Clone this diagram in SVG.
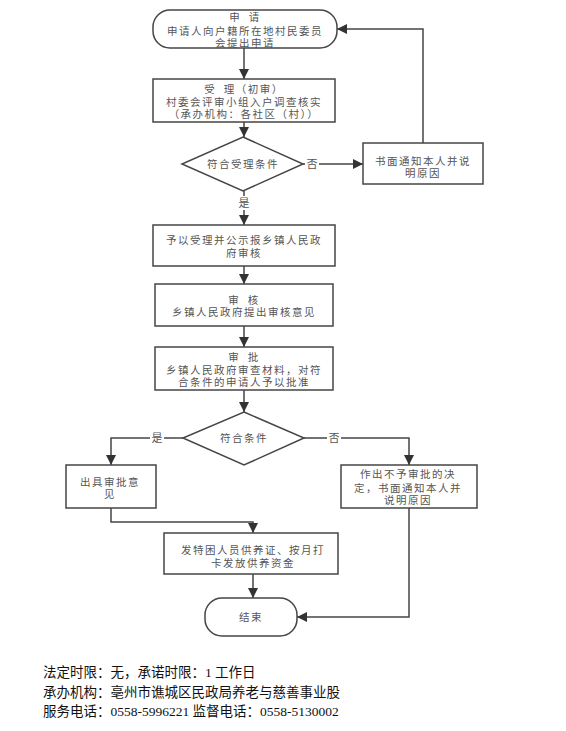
<svg xmlns="http://www.w3.org/2000/svg" width="566" height="731" viewBox="0 0 566 731">
<style>
.n{fill:#fff;stroke:#454545;stroke-width:1.5}
.t{font-family:"Noto Sans CJK SC","Noto Sans",sans-serif;font-size:10.5px;letter-spacing:1.5px;fill:#555;text-anchor:middle}
.c{fill:none;stroke:#454545;stroke-width:1.5}
.lb{font-family:"Noto Sans CJK SC","Noto Sans",sans-serif;font-size:11px;fill:#555;text-anchor:middle}
.f{font-family:"Liberation Serif","Noto Sans CJK SC",serif;font-size:13.5px;fill:#111}
</style>
<defs>
<marker id="a" viewBox="0 0 10 10" refX="10" refY="5" markerWidth="10" markerHeight="10" markerUnits="userSpaceOnUse" orient="auto">
<path d="M0,0 L10,5 L0,10 Z" fill="#333"/>
</marker>
</defs>
<rect width="566" height="731" fill="#fff"/>
<g id="connectors">
<path class="c" d="M244,48 V79" marker-end="url(#a)"/>
<path class="c" d="M244,122 V137" marker-end="url(#a)"/>
<path class="c" d="M303,164 H363" marker-end="url(#a)"/>
<path class="c" d="M423,143 V29 H337" marker-end="url(#a)"/>
<path class="c" d="M244,191 V225" marker-end="url(#a)"/>
<path class="c" d="M244,266 V284" marker-end="url(#a)"/>
<path class="c" d="M244,326 V347" marker-end="url(#a)"/>
<path class="c" d="M244,390 V412" marker-end="url(#a)"/>
<path class="c" d="M183,438 H111 V465" marker-end="url(#a)"/>
<path class="c" d="M304,438 H409 V465" marker-end="url(#a)"/>
<path class="c" d="M111,508 V522 H253 V533" marker-end="url(#a)"/>
<path class="c" d="M253,574 V598" marker-end="url(#a)"/>
<path class="c" d="M409,508 V617 H297" marker-end="url(#a)"/>
<rect x="305" y="157" width="14" height="14" fill="#fff"/>
<text class="lb" x="312" y="168">否</text>
<rect x="237" y="196" width="14" height="14" fill="#fff"/>
<text class="lb" x="244" y="207">是</text>
<rect x="150" y="431" width="14" height="14" fill="#fff"/>
<text class="lb" x="157" y="442">是</text>
<rect x="327" y="431" width="14" height="14" fill="#fff"/>
<text class="lb" x="334" y="442">否</text>
</g>
<g id="start">
<rect class="n" x="153" y="10" width="184" height="38" rx="17" ry="17"/>
<text class="t" x="245" y="21" xml:space="preserve">申  请</text>
<text class="t" x="245" y="35">申请人向户籍所在地村民委员</text>
<text class="t" x="245" y="47">会提出申请</text>
</g>
<g id="accept">
<rect class="n" x="153" y="79" width="182" height="43"/>
<text class="t" x="244" y="93" xml:space="preserve">受  理（初审）</text>
<text class="t" x="244" y="106">村委会评审小组入户调查核实</text>
<text class="t" x="244" y="118">（承办机构：各社区（村））</text>
</g>
<g id="cond1">
<polygon class="n" points="243,137 303,164 243,191 182,164"/>
<text class="t" x="243" y="168">符合受理条件</text>
</g>
<g id="notify1">
<rect class="n" x="363" y="143" width="120" height="41"/>
<text class="t" x="423" y="165">书面通知本人并说</text>
<text class="t" x="423" y="177">明原因</text>
</g>
<g id="publish">
<rect class="n" x="153" y="225" width="182" height="41"/>
<text class="t" x="244" y="244">予以受理并公示报乡镇人民政</text>
<text class="t" x="244" y="257">府审核</text>
</g>
<g id="review">
<rect class="n" x="155" y="284" width="178" height="42"/>
<text class="t" x="244" y="304" xml:space="preserve">审  核</text>
<text class="t" x="244" y="316">乡镇人民政府提出审核意见</text>
</g>
<g id="approve">
<rect class="n" x="155" y="347" width="178" height="43"/>
<text class="t" x="244" y="361" xml:space="preserve">审  批</text>
<text class="t" x="244" y="374">乡镇人民政府审查材料，对符</text>
<text class="t" x="244" y="386">合条件的申请人予以批准</text>
</g>
<g id="cond2">
<polygon class="n" points="244,412 304,438 244,465 183,438"/>
<text class="t" x="244" y="442">符合条件</text>
</g>
<g id="opinion">
<rect class="n" x="66" y="465" width="90" height="43"/>
<text class="t" x="110" y="486">出具审批意</text>
<text class="t" x="110" y="498">见</text>
</g>
<g id="reject">
<rect class="n" x="341" y="465" width="136" height="43"/>
<text class="t" x="408" y="478">作出不予审批的决</text>
<text class="t" x="408" y="492">定，书面通知本人并</text>
<text class="t" x="408" y="504">说明原因</text>
</g>
<g id="issue">
<rect class="n" x="164" y="533" width="174" height="41"/>
<text class="t" x="253" y="554">发特困人员供养证、按月打</text>
<text class="t" x="253" y="567">卡发放供养资金</text>
</g>
<g id="end">
<rect class="n" x="205" y="598" width="92" height="38" rx="17" ry="17"/>
<text class="t" x="251" y="621">结束</text>
</g>
<g id="footer">
<text class="f" x="43" y="677">法定时限：无，承诺时限：1 工作日</text>
<text class="f" x="43" y="697">承办机构：亳州市谯城区民政局养老与慈善事业股</text>
<text class="f" x="43" y="716">服务电话：0558-5996221 监督电话：0558-5130002</text>
</g>
</svg>
